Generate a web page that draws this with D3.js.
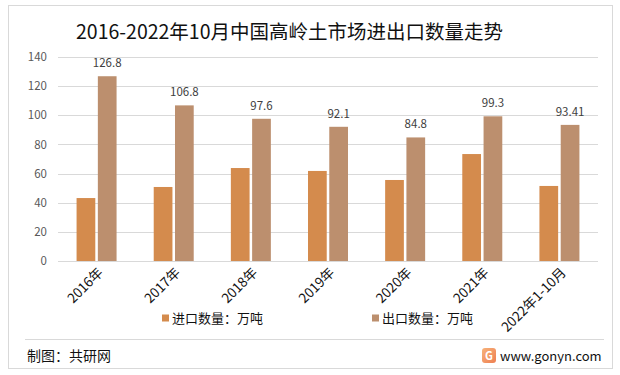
<!DOCTYPE html>
<html>
<head>
<meta charset="utf-8">
<script src="https://cdn.jsdelivr.net/npm/d3@7"></script>
<style>
  body { margin: 0; background: #fff; }
  svg text { font-family: "Noto Sans CJK SC", "Microsoft YaHei", sans-serif; }
</style>
</head>
<body>
<svg id="chart" width="620" height="375"></svg>
<script>
// data
var years = ["2016年", "2017年", "2018年", "2019年", "2020年", "2021年", "2022年1-10月"];
var importQty = [43.2, 50.8, 63.8, 61.8, 55.6, 73.4, 51.5];
var exportQty = [126.8, 106.8, 97.6, 92.1, 84.8, 99.3, 93.41];
var exportLabels = ["126.8", "106.8", "97.6", "92.1", "84.8", "99.3", "93.41"];
var seriesNames = ["进口数量：万吨", "出口数量：万吨"];
var colors = ["#D48B4D", "#BC8F6E"];
var yTicks = [0, 20, 40, 60, 80, 100, 120, 140];

var svg = d3.select("#chart");

// outer frame
svg.append("rect")
  .attr("x", 8.5).attr("y", 5.5)
  .attr("width", 604).attr("height", 363)
  .attr("fill", "#fff")
  .attr("stroke", "#d9d9d9");

// title
svg.append("text")
  .attr("x", 76).attr("y", 39)
  .attr("font-size", "19.5px")
  .attr("fill", "#111")
  .text("2016-2022年10月中国高岭土市场进出口数量走势");

var plot = {left: 58, right: 598, top: 57, bottom: 261};

var x = d3.scaleBand()
  .domain(years)
  .range([plot.left, plot.right]);

var xSub = d3.scaleBand()
  .domain([0, 1])
  .range([-20, 20])
  .paddingInner(0.12);

var y = d3.scaleLinear()
  .domain([0, 140])
  .range([plot.bottom, plot.top]);

// gridlines
svg.append("g")
  .selectAll("line")
  .data(yTicks)
  .join("line")
  .attr("x1", plot.left).attr("x2", plot.right)
  .attr("y1", function(d) { return Math.round(y(d)) + 0.5; })
  .attr("y2", function(d) { return Math.round(y(d)) + 0.5; })
  .attr("stroke", "#d9d9d9");

// y axis labels
var yAxis = svg.append("g")
  .attr("transform", "translate(" + (plot.left - 11) + ",0)")
  .call(d3.axisLeft(y).tickValues(yTicks).tickSize(0).tickPadding(0));
yAxis.select(".domain").remove();
yAxis.selectAll("text")
  .attr("font-size", "11.5px")
  .attr("fill", "#595959");

// bars
var rows = years.map(function(d, i) {
  return {year: d, vals: [importQty[i], exportQty[i]], label: exportLabels[i]};
});

var groups = svg.append("g")
  .selectAll("g")
  .data(rows)
  .join("g")
  .attr("transform", function(d) { return "translate(" + (x(d.year) + x.bandwidth() / 2) + ",0)"; });

groups.selectAll("rect")
  .data(function(d) { return d.vals; })
  .join("rect")
  .attr("x", function(d, i) { return xSub(i); })
  .attr("width", xSub.bandwidth())
  .attr("y", function(d) { return y(d); })
  .attr("height", function(d) { return plot.bottom - y(d); })
  .attr("fill", function(d, i) { return colors[i]; });

// export value labels
groups.append("text")
  .attr("x", xSub(1) + xSub.bandwidth() / 2)
  .attr("y", function(d) { return y(d.vals[1]) - 9; })
  .attr("text-anchor", "middle")
  .attr("font-size", "11.5px")
  .attr("fill", "#404040")
  .text(function(d) { return d.label; });

// x labels, rotated
svg.append("g")
  .selectAll("text")
  .data(years)
  .join("text")
  .attr("transform", function(d) {
    return "translate(" + (x(d) + x.bandwidth() / 2 + 4) + "," + (plot.bottom + 9) + ") rotate(-45)";
  })
  .attr("text-anchor", "end")
  .attr("dy", "0.35em")
  .attr("font-size", "13.5px")
  .attr("fill", "#111")
  .text(function(d) { return d; });

// legend
var legendX = [162, 372];
var legend = svg.append("g")
  .selectAll("g")
  .data(seriesNames)
  .join("g")
  .attr("transform", function(d, i) { return "translate(" + legendX[i] + ",318)"; });
legend.append("rect")
  .attr("x", 0).attr("y", -3.5)
  .attr("width", 7).attr("height", 7)
  .attr("fill", function(d, i) { return colors[i]; });
legend.append("text")
  .attr("x", 10)
  .attr("dy", "0.36em")
  .attr("font-size", "13px")
  .attr("fill", "#111")
  .text(function(d) { return d; });

// footer
svg.append("line")
  .attr("x1", 25).attr("x2", 604)
  .attr("y1", 339.5).attr("y2", 339.5)
  .attr("stroke", "#d9d9d9");

svg.append("text")
  .attr("x", 27).attr("y", 356)
  .attr("dy", "0.36em")
  .attr("font-size", "14px")
  .attr("fill", "#111")
  .text("制图：共研网");

var grad = svg.append("defs").append("linearGradient")
  .attr("id", "logoGrad")
  .attr("x1", "0").attr("y1", "0").attr("x2", "1").attr("y2", "1");
grad.append("stop").attr("offset", "0%").attr("stop-color", "#f7b27a");
grad.append("stop").attr("offset", "100%").attr("stop-color", "#ee7f52");

svg.append("rect")
  .attr("x", 482).attr("y", 348)
  .attr("width", 14).attr("height", 15)
  .attr("rx", 3)
  .attr("fill", "url(#logoGrad)");
svg.append("text")
  .attr("x", 489).attr("y", 356)
  .attr("dy", "0.36em")
  .attr("text-anchor", "middle")
  .attr("font-size", "11px")
  .attr("font-weight", "bold")
  .attr("fill", "#fff")
  .text("G");

svg.append("text")
  .attr("x", 500).attr("y", 356)
  .attr("dy", "0.36em")
  .attr("font-size", "13px")
  .attr("fill", "#111")
  .text("www.gonyn.com");
</script>
</body>
</html>
